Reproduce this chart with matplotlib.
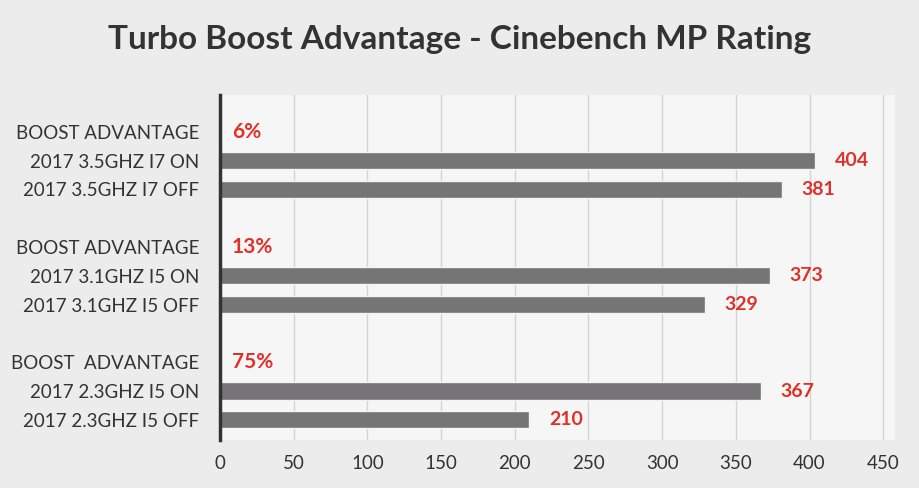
import matplotlib
matplotlib.use("Agg")
import matplotlib.pyplot as plt
import numpy as np

row_labels = ["BOOST ADVANTAGE", "2017 3.5GHZ I7 ON", "2017 3.5GHZ I7 OFF", "",
              "BOOST ADVANTAGE", "2017 3.1GHZ I5 ON", "2017 3.1GHZ I5 OFF", "",
              "BOOST  ADVANTAGE", "2017 2.3GHZ I5 ON", "2017 2.3GHZ I5 OFF"]
values = [None, 404, 381, None, None, 373, 329, None, None, 367, 210]
advantage_rows = [0, 4, 8]
advantage_labels = ["6%", "13%", "75%"]
xticks = [0, 50, 100, 150, 200, 250, 300, 350, 400, 450]

font = ["Lato", "DejaVu Sans"]
text_col = "#333333"
red = "#e0302a"
bar_col = "#767476"

fig = plt.figure(figsize=(9.2, 4.88), dpi=100)
fig.patch.set_facecolor("#ececec")
ax = fig.add_axes([220/920, 1-440/488, (895-220)/920, (440-95)/488])
ax.set_facecolor("#f6f6f6")

y = np.arange(len(row_labels))
for i, v in enumerate(values):
    if v is not None:
        ax.barh(i, v, height=0.6, color=bar_col, edgecolor="#f4f4f4", linewidth=1, zorder=3)
        ax.annotate(str(v), (v, i), xytext=(14, 0), textcoords="offset points",
                    va="center", ha="left", color=red, fontweight="bold",
                    fontsize=14, family=font, zorder=4)
for r, lab in zip(advantage_rows, advantage_labels):
    ax.text(8, r, lab, va="center", ha="left", color=red, fontweight="bold",
            fontsize=15, family=font, zorder=4)

ax.set_xlim(0, 458)
ax.set_ylim(10.7, -1.28)
ax.set_yticks(y)
ax.set_yticklabels(row_labels, family=font, fontsize=13.5, color=text_col)
ax.set_xticks(xticks)
ax.set_xticklabels([str(t) for t in xticks], family=font, fontsize=13.5, color=text_col)
ax.tick_params(axis="y", length=0, pad=15)
ax.tick_params(axis="x", length=0, pad=11)
ax.grid(axis="x", color="#d3d3d3", linewidth=1, zorder=0)
for s in ["top", "right", "bottom"]:
    ax.spines[s].set_visible(False)
ax.spines["left"].set_color("#333333")
ax.spines["left"].set_linewidth(2.5)
ax.spines["left"].set_zorder(5)

fig.text(0.5, 1-40/488, "Turbo Boost Advantage - Cinebench MP Rating", ha="center", va="center",
         fontsize=24, fontweight="bold", color=text_col, family=font)

fig.savefig("out.png", dpi=100, facecolor=fig.get_facecolor())
